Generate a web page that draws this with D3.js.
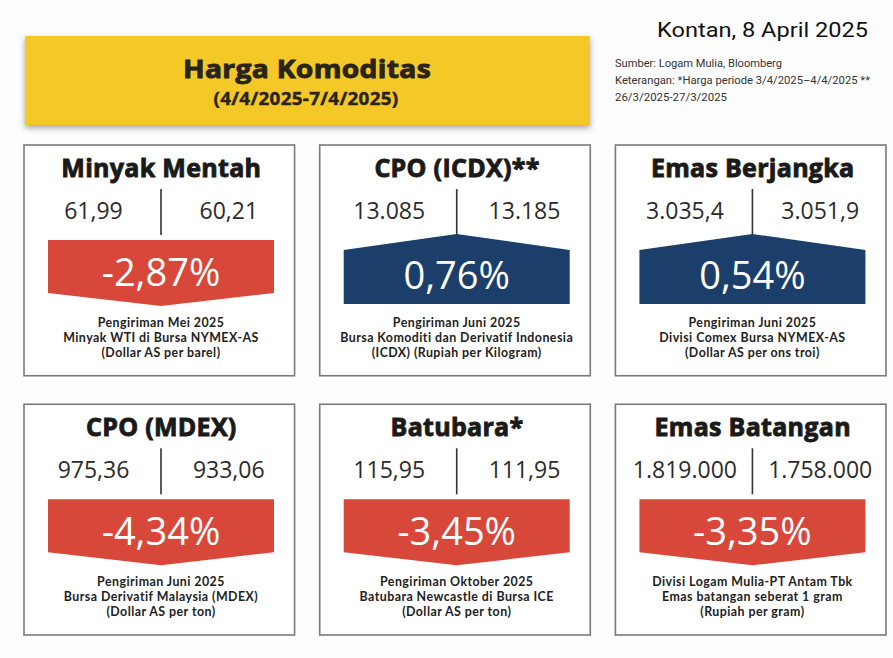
<!DOCTYPE html>
<html>
<head>
<meta charset="utf-8">
<title>Harga Komoditas</title>
<script src="https://d3js.org/d3.v7.min.js"></script>
<style>
    body{ margin:0; background:#fdfdfd; }
    svg{ display:block; }
    .ttl{ font-family:"Open Sans", sans-serif; font-weight:700; fill:#1a1a1a; stroke:#1a1a1a; stroke-width:0.9px; letter-spacing:0.3px; }
    .val{ font-family:"Open Sans", sans-serif; font-weight:400; fill:#2b2b2b; }
    .pct{ font-family:"Open Sans", sans-serif; font-weight:400; fill:#fff; }
    .note{ font-family:Lato, sans-serif; font-weight:700; fill:#222; letter-spacing:0.45px; }
    .src{ font-family:Roboto, sans-serif; fill:#333; }
</style>
</head>
<body>
<div id="chart"></div>
<script>
var titles = ["Minyak Mentah", "CPO (ICDX)**", "Emas Berjangka", "CPO (MDEX)", "Batubara*", "Emas Batangan"];
var prevValues = [61.99, 13085, 3035.4, 975.36, 115.95, 1819000];
var lastValues = [60.21, 13185, 3051.9, 933.06, 111.95, 1758000];
var decimals = [2, 0, 1, 2, 2, 0];
var changes = [-2.87, 0.76, 0.54, -4.34, -3.45, -3.35];
var notes = [
    ["Pengiriman Mei 2025", "Minyak WTI di Bursa NYMEX-AS", "(Dollar AS per barel)"],
    ["Pengiriman Juni 2025", "Bursa Komoditi dan Derivatif Indonesia", "(ICDX) (Rupiah per Kilogram)"],
    ["Pengiriman Juni 2025", "Divisi Comex Bursa NYMEX-AS", "(Dollar AS per ons troi)"],
    ["Pengiriman Juni 2025", "Bursa Derivatif Malaysia (MDEX)", "(Dollar AS per ton)"],
    ["Pengiriman Oktober 2025", "Batubara Newcastle di Bursa ICE", "(Dollar AS per ton)"],
    ["Divisi Logam Mulia-PT Antam Tbk", "Emas batangan seberat 1 gram", "(Rupiah per gram)"]
];
var sourceLines = ["Sumber: Logam Mulia, Bloomberg",
                   "Keterangan: *Harga periode 3/4/2025\u20134/4/2025 **",
                   "26/3/2025-27/3/2025"];
var sourceWidths = [167, 255, 112];

var W = 893, H = 658;
var idLocale = d3.formatLocale({decimal: ",", thousands: ".", grouping: [3], currency: ["Rp", ""], minus: "-"});

var svg = d3.select("#chart").append("svg")
    .attr("width", W).attr("height", H);

var defs = svg.append("defs");
var f = defs.append("filter").attr("id", "shadow").attr("x", "-5%").attr("y", "-20%").attr("width", "110%").attr("height", "150%");
f.append("feDropShadow").attr("dx", 0).attr("dy", 3).attr("stdDeviation", 3).attr("flood-color", "#000").attr("flood-opacity", 0.35);

// header
svg.append("rect")
    .attr("x", 25).attr("y", 36).attr("width", 565).attr("height", 89)
    .attr("fill", "#f4c826")
    .attr("filter", "url(#shadow)");
svg.append("text").attr("class", "ttl")
    .attr("x", 307).attr("y", 78).attr("text-anchor", "middle")
    .style("font-size", "25px").style("fill", "#2a2418").style("stroke", "#2a2418")
    .attr("textLength", 248).attr("lengthAdjust", "spacingAndGlyphs")
    .text("Harga Komoditas");
svg.append("text").attr("class", "ttl")
    .attr("x", 306).attr("y", 105).attr("text-anchor", "middle")
    .style("font-size", "17px").style("fill", "#2a2418").style("stroke", "#2a2418").style("stroke-width", "0.4px")
    .attr("textLength", 185).attr("lengthAdjust", "spacingAndGlyphs")
    .text("(4/4/2025-7/4/2025)");

svg.append("text")
    .attr("x", 868).attr("y", 37).attr("text-anchor", "end")
    .style("font-family", "Roboto, sans-serif")
    .style("font-size", "21px").style("fill", "#111")
    .attr("textLength", 211).attr("lengthAdjust", "spacingAndGlyphs")
    .text("Kontan, 8 April 2025");

svg.append("g").selectAll("text")
    .data(sourceLines)
    .join("text")
    .attr("class", "src")
    .attr("x", 615)
    .attr("y", function(d, i){ return 67 + i * 17; })
    .style("font-size", "11.5px")
    .attr("textLength", function(d, i){ return sourceWidths[i]; })
    .attr("lengthAdjust", "spacingAndGlyphs")
    .text(function(d){ return d; });

// card grid
var col = d3.scaleBand().domain([0, 1, 2]).range([24, 886]).paddingInner(0.085);
var row = d3.scaleBand().domain([0, 1]).range([145, 635]).paddingInner(0.11);

var cards = svg.append("g").selectAll("g")
    .data(titles.map(function(t, i){ return i; }))
    .join("g")
    .attr("transform", function(i){ return "translate(" + col(i % 3) + "," + row(Math.floor(i / 3)) + ")"; });

var cw = col.bandwidth(), ch = row.bandwidth();
var mid = 137;        // divider position inside a card
var halfW = 113;

cards.append("rect")
    .attr("x", 0).attr("y", 0)
    .attr("width", cw).attr("height", ch)
    .attr("fill", "#fff")
    .attr("stroke", "#7a7a7a").attr("stroke-width", 1.6);

cards.append("text").attr("class", "ttl")
    .attr("x", cw / 2 + 2).attr("y", 32)
    .attr("text-anchor", "middle")
    .style("font-size", "25px")
    .text(function(i){ return titles[i]; });

cards.append("line")
    .attr("x1", mid).attr("x2", mid)
    .attr("y1", 44).attr("y2", 90)
    .attr("stroke", "#333").attr("stroke-width", 1.6);

cards.append("text").attr("class", "val")
    .attr("x", mid / 2 + 1).attr("y", 74)
    .attr("text-anchor", "middle")
    .style("font-size", "23px")
    .text(function(i){ return idLocale.format(",." + decimals[i] + "f")(prevValues[i]); });

cards.append("text").attr("class", "val")
    .attr("x", (mid + cw) / 2 + 1).attr("y", 74)
    .attr("text-anchor", "middle")
    .style("font-size", "23px")
    .text(function(i){ return idLocale.format(",." + decimals[i] + "f")(lastValues[i]); });

// arrow band: down arrow for a fall, up arrow for a rise
function arrowPath(i){
    var l = mid - halfW, r = mid + halfW;
    if (changes[i] < 0) {
        return "M" + l + ",95L" + r + ",95L" + r + ",148L" + mid + ",161L" + l + ",148Z";
    }
    return "M" + l + ",105L" + mid + ",89L" + r + ",105L" + r + ",159L" + l + ",159Z";
}

cards.append("path")
    .attr("d", arrowPath)
    .attr("fill", function(i){ return changes[i] < 0 ? "#d8483a" : "#1b3f6a"; });

cards.append("text").attr("class", "pct")
    .attr("x", mid).attr("y", function(i){ return changes[i] < 0 ? 141 : 144; })
    .attr("text-anchor", "middle")
    .style("font-size", "38px")
    .text(function(i){ return idLocale.format(".2f")(changes[i]) + "%"; });

cards.each(function(i){
    d3.select(this).selectAll("text.note")
        .data(notes[i])
        .join("text")
        .attr("class", "note")
        .attr("x", mid)
        .attr("y", function(d, k){ return 182 + k * 15; })
        .attr("text-anchor", "middle")
        .style("font-size", "12.4px")
        .text(function(d){ return d; });
});
</script>
</body>
</html>
